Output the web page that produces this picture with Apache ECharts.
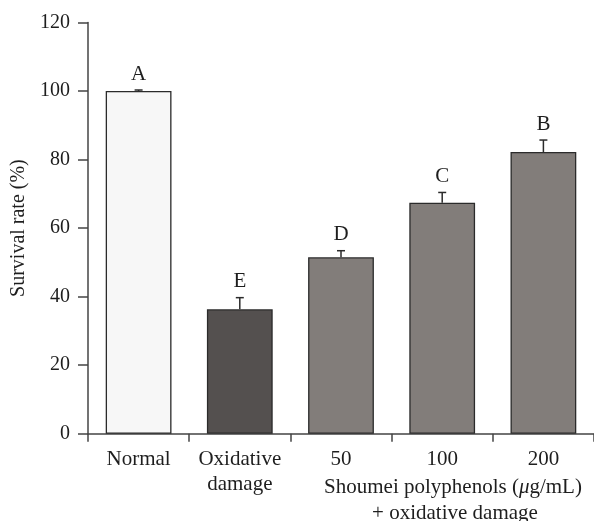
<!DOCTYPE html>
<html>
<head>
<meta charset="utf-8">
<script src="https://cdn.jsdelivr.net/npm/echarts@6.0.0/dist/echarts.min.js"></script>
<style>
  html, body { margin: 0; padding: 0; background: #fff; }
  #chart { width: 594px; height: 521px; }
</style>
</head>
<body>
<div id="chart"></div>
<script>
// values
const categories = ['Normal', 'Oxidative\ndamage', '50', '100', '200'];
const survival = [100, 36.3, 51.5, 67.4, 82.2];
const errors = [0.3, 3.4, 1.9, 3.0, 3.5];
const letters = ['A', 'E', 'D', 'C', 'B'];
const barColors = ['#f7f7f7', '#54504f', '#827d7a', '#827d7a', '#827d7a'];

const FONT = '"Liberation Serif", "Times New Roman", serif';
const TXT = '#1e1e1e';
const chart = echarts.init(document.getElementById('chart'));

const errData = survival.map((v, i) => [i, v, errors[i]]);

chart.setOption({
  animation: false,
  grid: { left: 88, right: 0, top: 22.5, bottom: 87.3, outerBoundsMode: 'none', containLabel: false },
  xAxis: {
    type: 'category',
    data: categories,
    boundaryGap: true,
    axisLine: { lineStyle: { color: '#444', width: 1.5 } },
    axisTick: { show: true, length: 8, lineStyle: { color: '#444', width: 1.5 } },
    axisLabel: {
      color: TXT, fontFamily: FONT, fontSize: 21, lineHeight: 25, margin: 13,
      interval: 0
    }
  },
  yAxis: {
    type: 'value',
    min: 0, max: 120, interval: 20,
    name: 'Survival rate (%)',
    nameLocation: 'middle',
    nameGap: 55,
    nameTextStyle: { color: TXT, fontFamily: FONT, fontSize: 20 },
    axisLine: { show: true, lineStyle: { color: '#444', width: 1.5 } },
    axisTick: { show: true, length: 10, lineStyle: { color: '#444', width: 1.5 } },
    splitLine: { show: false },
    axisLabel: { color: TXT, fontFamily: FONT, fontSize: 20, margin: 18 }
  },
  series: [
    {
      type: 'bar',
      barWidth: '65%',
      data: survival.map((v, i) => ({
        value: v,
        itemStyle: { color: barColors[i] }
      })),
      itemStyle: { borderColor: '#2b2b2b', borderWidth: 1.3 }
    },
    {
      type: 'custom',
      data: errData,
      z: 5,
      renderItem: (params, api) => {
        const x = api.coord([api.value(0), api.value(1)])[0];
        const yBase = api.coord([api.value(0), api.value(1)])[1];
        const yTop = api.coord([api.value(0), api.value(1) + api.value(2)])[1];
        const half = 4;
        const style = { stroke: '#2b2b2b', lineWidth: 1.5 };
        return {
          type: 'group',
          children: [
            { type: 'line', shape: { x1: x, y1: yBase, x2: x, y2: yTop }, style },
            { type: 'line', shape: { x1: x - half, y1: yTop, x2: x + half, y2: yTop }, style },
            {
              type: 'text',
              style: {
                x: x, y: yTop - 16,
                text: letters[params.dataIndex],
                textAlign: 'center', textVerticalAlign: 'middle',
                fill: TXT, font: '21px ' + FONT
              }
            }
          ]
        };
      }
    }
  ],
  graphic: [
    {
      type: 'text',
      x: 453, y: 487,
      style: {
        text: 'Shoumei polyphenols ({i|μ}g/mL)',
        textAlign: 'center', textVerticalAlign: 'middle',
        fill: TXT, font: '21px ' + FONT,
        rich: { i: { fontStyle: 'italic', fontFamily: FONT, fontSize: 21, fill: TXT } }
      }
    },
    {
      type: 'text',
      x: 455, y: 513,
      style: {
        text: '+ oxidative damage',
        textAlign: 'center', textVerticalAlign: 'middle',
        fill: TXT, font: '21px ' + FONT
      }
    }
  ]
});
</script>
</body>
</html>
